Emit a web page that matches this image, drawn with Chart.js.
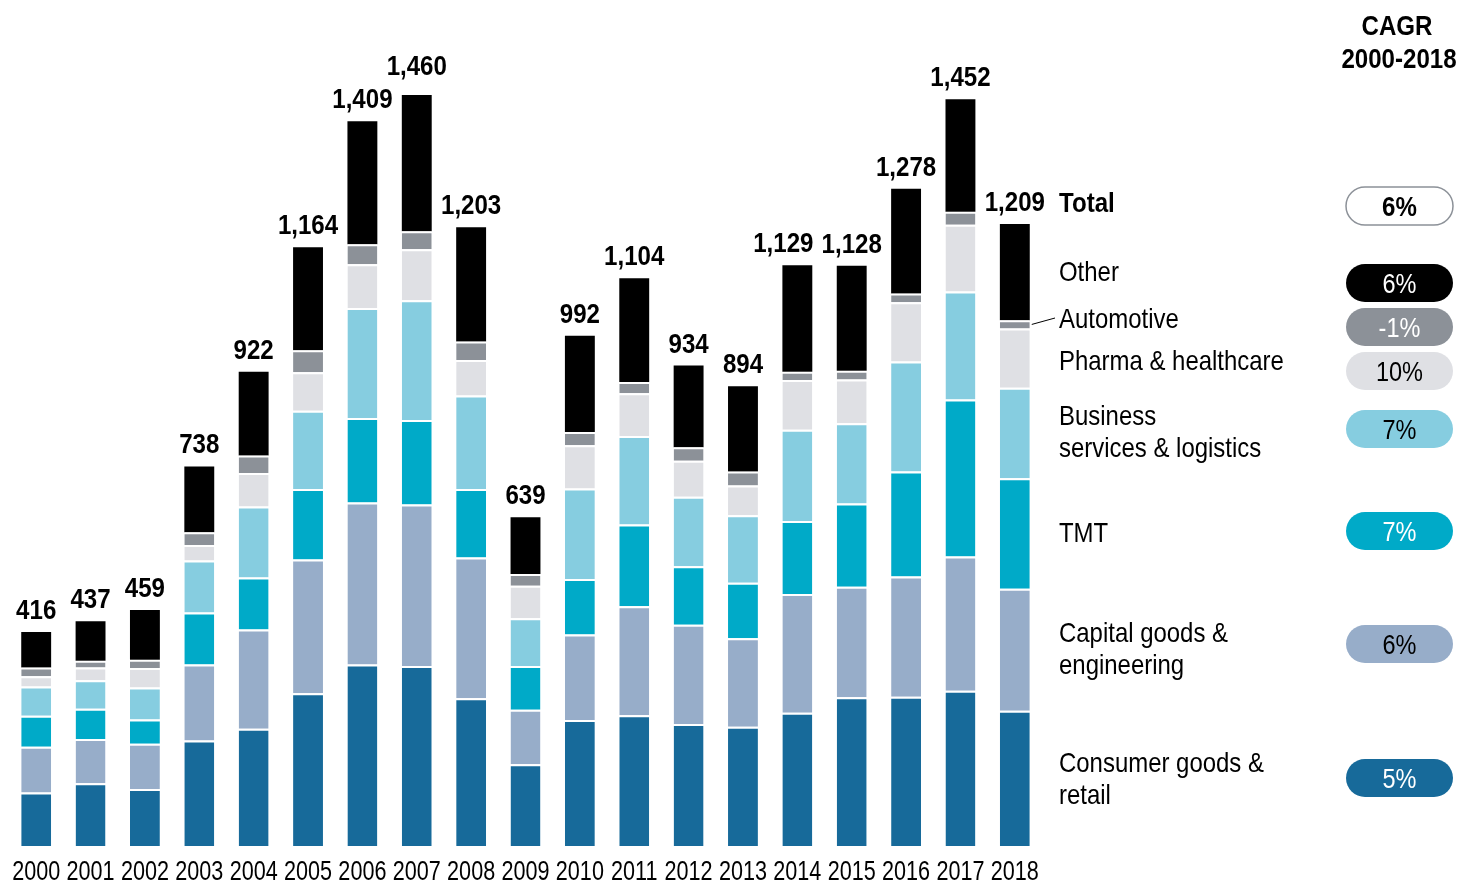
<!DOCTYPE html>
<html>
<head>
<meta charset="utf-8">
<script src="https://cdn.jsdelivr.net/npm/chart.js@4.4.1/dist/chart.umd.min.js"></script>
<style>
html,body{margin:0;padding:0;background:#fff;}
#wrap{width:1457px;height:882px;position:relative;}
canvas{display:block;}
</style>
</head>
<body>
<div id="wrap"><canvas id="c" width="1457" height="882"></canvas></div>
<script>
// ---- data ----
const years = ['2000','2001','2002','2003','2004','2005','2006','2007','2008','2009','2010','2011','2012','2013','2014','2015','2016','2017','2018'];
const consumer   = [104,122,111,205,228,297,353,350,287,159,245,254,237,232,259,289,290,302,263];
const capital    = [ 89, 86, 88,148,193,260,315,314,274,106,166,212,193,172,231,215,234,261,237];
const tmt        = [ 60, 59, 47,101,101,137,164,164,133, 85,108,159,114,108,142,162,204,305,215];
const business   = [ 57, 55, 62,101,138,152,214,233,182, 93,176,172,135,131,177,156,214,210,176];
const pharma     = [ 20, 25, 38, 30, 65, 75, 85, 99, 69, 63, 84, 83, 70, 58, 97, 85,115,130,115];
const automotive = [ 17, 13, 16, 25, 34, 43, 39, 35, 36, 23, 26, 22, 26, 27, 16, 17, 17, 25, 16];
const other      = [ 69, 77, 97,128,163,200,239,265,222,110,187,202,159,166,207,204,204,219,187];
const totals     = [416,437,459,738,922,1164,1409,1460,1203,639,992,1104,934,894,1129,1128,1278,1452,1209];
const seriesNames = ['Consumer goods & retail','Capital goods & engineering','TMT','Business services & logistics','Pharma & healthcare','Automotive','Other'];
const cagrTotal = '6%';
const cagr = ['5%','6%','7%','7%','10%','-1%','6%'];

// ---- styles / layout ----
const FONT = '"Liberation Sans",Arial,sans-serif';
const colors = ['#176a9a','#97adc9','#00aac8','#86cde0','#dfe0e4','#8c9198','#000000'];
const pillText = ['#ffffff','#000000','#ffffff','#000000','#000000','#ffffff','#ffffff'];
const legendLines = [['Consumer goods &','retail'],['Capital goods &','engineering'],['TMT'],['Business','services & logistics'],['Pharma & healthcare'],['Automotive'],['Other']];
const legendY = [778, 648, 532, 431, 360, 318, 271];
const pillY = [778, 644, 531, 429, 371, 327, 283];
const labelShiftX = {14: -14};
const labelShiftY = {7: -7};
const LEG_X = 1059, PILL_X = 1346, PILL_W = 107, PILL_H = 38;

const dataSets = [consumer, capital, tmt, business, pharma, automotive, other];

function narrowText(ctx, text, x, y, align, sx) {
  ctx.save();
  ctx.translate(x, y);
  ctx.scale(sx, 1);
  ctx.textAlign = align;
  ctx.textBaseline = 'alphabetic';
  ctx.fillText(text, 0, 0);
  ctx.restore();
}

const totalsPlugin = {
  id: 'totals',
  afterDatasetsDraw(chart) {
    const ctx = chart.ctx;
    const y = chart.scales.y;
    const x = chart.scales.x;
    const lastMeta = chart.getDatasetMeta(dataSets.length - 1);
    ctx.save();
    ctx.fillStyle = '#000';
    ctx.font = 'bold 28px ' + FONT;
    totals.forEach((t, i) => {
      const bar = lastMeta.data[i];
      narrowText(ctx, t.toLocaleString('en-US'), bar.x + (labelShiftX[i] || 0),
        y.getPixelForValue(t) - 13 + (labelShiftY[i] || 0), 'center', 0.86);
    });
    ctx.font = '27px ' + FONT;
    years.forEach((yr, i) => {
      narrowText(ctx, yr, x.getPixelForTick(i), 880, 'center', 0.8);
    });
    ctx.restore();
  }
};

const legendPlugin = {
  id: 'sideLegend',
  afterDraw(chart) {
    const ctx = chart.ctx;
    ctx.save();
    ctx.fillStyle = '#000';
    ctx.font = 'bold 28px ' + FONT;
    narrowText(ctx, 'CAGR', 1397, 35, 'center', 0.86);
    narrowText(ctx, '2000-2018', 1399, 68, 'center', 0.86);
    narrowText(ctx, 'Total', LEG_X, 212, 'left', 0.86);
    ctx.font = '28px ' + FONT;
    legendLines.forEach((lines, i) => {
      const n = lines.length;
      lines.forEach((ln, j) => {
        const cy = legendY[i] + (j - (n - 1) / 2) * 32;
        narrowText(ctx, ln, LEG_X, cy + 10, 'left', 0.855);
      });
    });
    // leader line to automotive segment of last bar
    const autoMeta = chart.getDatasetMeta(5);
    const el = autoMeta.data[autoMeta.data.length - 1];
    ctx.strokeStyle = '#000';
    ctx.lineWidth = 1;
    ctx.beginPath();
    ctx.moveTo(el.x + el.width / 2 + 2, (el.y + el.base) / 2);
    ctx.lineTo(LEG_X - 4, legendY[5]);
    ctx.stroke();
    // pills
    function pill(cy, fill, stroke) {
      const x = PILL_X, y = cy - PILL_H / 2, w = PILL_W, h = PILL_H, r = PILL_H / 2;
      ctx.beginPath();
      ctx.moveTo(x + r, y);
      ctx.lineTo(x + w - r, y);
      ctx.arc(x + w - r, cy, r, -Math.PI / 2, Math.PI / 2);
      ctx.lineTo(x + r, y + h);
      ctx.arc(x + r, cy, r, Math.PI / 2, Math.PI * 1.5);
      ctx.closePath();
      ctx.fillStyle = fill;
      ctx.fill();
      if (stroke) { ctx.strokeStyle = stroke; ctx.lineWidth = 1.5; ctx.stroke(); }
    }
    pill(206, '#ffffff', '#8c9198');
    ctx.fillStyle = '#000';
    ctx.font = 'bold 28px ' + FONT;
    narrowText(ctx, cagrTotal, PILL_X + PILL_W / 2, 216, 'center', 0.86);
    ctx.font = '28px ' + FONT;
    cagr.forEach((v, i) => {
      pill(pillY[i], colors[i]);
      ctx.fillStyle = pillText[i];
      narrowText(ctx, v, PILL_X + PILL_W / 2, pillY[i] + 10, 'center', 0.84);
    });
    ctx.restore();
  }
};

new Chart(document.getElementById('c'), {
  type: 'bar',
  data: {
    labels: years,
    datasets: dataSets.map((d, i) => ({
      label: seriesNames[i],
      data: d,
      backgroundColor: colors[i],
      borderColor: '#ffffff',
      borderWidth: i === dataSets.length - 1 ? 0 : {top: 2, bottom: 0, left: 0, right: 0},
      borderSkipped: false,
      categoryPercentage: 1,
      barPercentage: 0.55
    }))
  },
  options: {
    responsive: false,
    animation: false,
    devicePixelRatio: 1,
    layout: {padding: {top: 23, left: 9, right: 415, bottom: 36}},
    plugins: {legend: {display: false}, tooltip: {enabled: false}},
    scales: {
      x: {
        stacked: true,
        grid: {display: false, drawTicks: false},
        border: {display: false},
        ticks: {display: false}
      },
      y: {
        stacked: true,
        display: false,
        min: 0,
        max: 1600
      }
    }
  },
  plugins: [totalsPlugin, legendPlugin]
});
</script>
</body>
</html>
